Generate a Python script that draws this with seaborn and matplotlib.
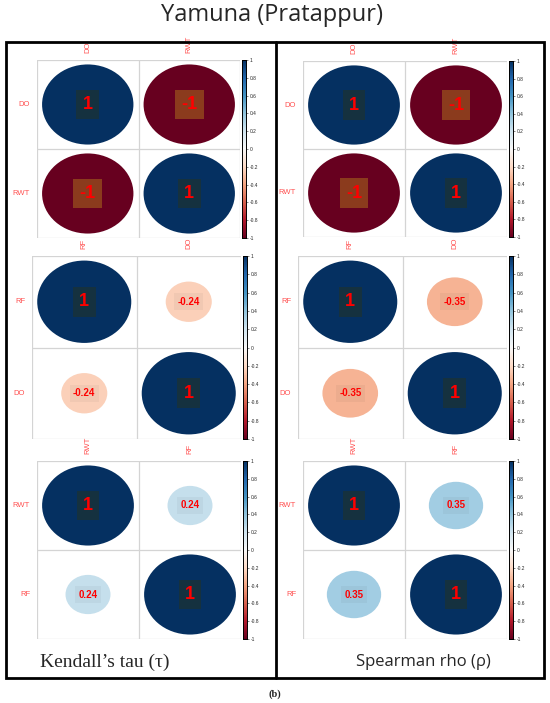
import numpy as np
import pandas as pd
import matplotlib.pyplot as plt
import seaborn as sns
from matplotlib.patches import Ellipse, Rectangle

sns.set_style("white")
plt.rcParams['font.family'] = ['Liberation Sans', 'DejaVu Sans']

# variable pairs for the three panels (top to bottom)
pairs = [["DO", "RWT"], ["RF", "DO"], ["RWT", "RF"]]
kendall_tau = [-1.0, -0.24, 0.24]
spearman_rho = [-1.0, -0.35, 0.35]
cbar_ticks = [1, 0.8, 0.6, 0.4, 0.2, 0, -0.2, -0.4, -0.6, -0.8, -1]

W, H = 550, 703
fig = plt.figure(figsize=(W / 100, H / 100), dpi=100)

# grid boxes in pixels (x0, y0, x1, y1), measured from the top-left
left_boxes = [(37, 60, 240, 238), (32, 256, 241, 439), (37, 461, 241, 639)]
right_boxes = [(303, 61, 507, 237), (298, 256, 507, 439), (303, 461, 507, 639)]


def px_axes(x0, y0, x1, y1):
    return fig.add_axes([x0 / W, 1 - y1 / H, (x1 - x0) / W, (y1 - y0) / H])


def corr_panel(box, names, r):
    df = pd.DataFrame([[1.0, r], [r, 1.0]], index=names, columns=names)
    ax = px_axes(*box)
    cax = px_axes(box[2] + 2, box[1], box[2] + 6, box[3])
    sns.heatmap(df, mask=np.ones(df.shape, dtype=bool), cmap="RdBu",
                vmin=-1, vmax=1, ax=ax, cbar_ax=cax)
    cmap = plt.get_cmap("RdBu")
    for v in [0, 1, 2]:
        ax.axhline(v, color="#d4d4d4", lw=0.9)
        ax.axvline(v, color="#d4d4d4", lw=0.9)
    for i in range(2):
        for j in range(2):
            val = df.iloc[i, j]
            s = 0.9 * np.sqrt(abs(val))
            ax.add_patch(Ellipse((j + 0.5, i + 0.5), s, s,
                                 facecolor=cmap((val + 1) / 2), edgecolor="none"))
            if val == 1:
                fc, fs = "#15313f", 13
            elif val == -1:
                fc, fs = "#8b3b1d", 13
            else:
                c = np.array(cmap((val + 1) / 2)[:3]) * 0.96
                fc, fs = tuple(c), 7
            ax.text(j + 0.5, i + 0.5, f"{val:g}", ha="center", va="center",
                    color="red", fontweight="bold", fontsize=fs,
                    bbox=dict(boxstyle="square,pad=0.35", fc=fc, ec="none"))
    ax.xaxis.tick_top()
    ax.set_xticklabels(names, rotation=90, color="#ff5050", fontsize=5.5)
    ax.set_yticklabels(names, rotation=0, color="#ff5050", fontsize=5.5)
    ax.tick_params(length=0, pad=5)
    ax.set_xlabel("")
    ax.set_ylabel("")
    cax.set_yticks(cbar_ticks)
    cax.set_yticklabels([f"{t:g}" for t in cbar_ticks])
    cax.tick_params(labelsize=3.5, length=1.5, width=0.4, pad=1)
    for sp in cax.spines.values():
        sp.set_visible(True)
        sp.set_linewidth(0.6)
        sp.set_color("black")


for box, names, r in zip(left_boxes, pairs, kendall_tau):
    corr_panel(box, names, r)
for box, names, r in zip(right_boxes, pairs, spearman_rho):
    corr_panel(box, names, r)

# outer frame with divider
fig.add_artist(Rectangle((6 / W, 1 - 678 / H), 538 / W, 636 / H,
                         transform=fig.transFigure, fill=False,
                         edgecolor="black", lw=2))
fig.add_artist(plt.Line2D([276 / W, 276 / W], [1 - 678 / H, 1 - 42 / H],
                          transform=fig.transFigure, color="black", lw=2))

fig.text(272 / W, 1 - 15 / H, "Yamuna (Pratappur)", ha="center", va="center",
         fontsize=17, family=["Open Sans", "DejaVu Sans"])
fig.text(105 / W, 1 - 662 / H, "Kendall\u2019s tau (\u03c4)", ha="center",
         va="center", fontsize=14, family=["Liberation Serif", "DejaVu Serif"])
fig.text(423 / W, 1 - 662 / H, "Spearman rho (\u03c1)", ha="center",
         va="center", fontsize=12, family=["Open Sans", "DejaVu Sans"])
fig.text(275 / W, 1 - 694 / H, "(b)", ha="center", va="center", fontsize=7.5,
         fontweight="bold", family=["Liberation Serif", "DejaVu Serif"])

fig.savefig("out.png", dpi=100)
